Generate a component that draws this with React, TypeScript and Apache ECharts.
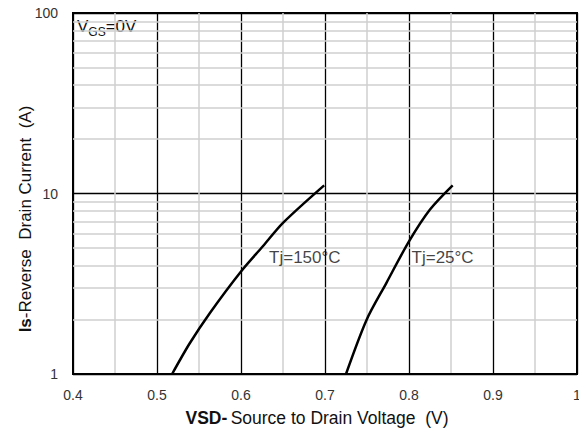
import React, { useEffect, useRef } from "react";
import * as echarts from "echarts";

const curve150: [number, number][] = [
  [0.518, 1],
  [0.539, 1.48],
  [0.563, 2.18],
  [0.6, 3.7],
  [0.626, 5.1],
  [0.65, 6.88],
  [0.699, 11.1],
];
const curve25: [number, number][] = [
  [0.725, 1],
  [0.7496, 2.0],
  [0.773, 3.19],
  [0.8, 5.43],
  [0.825, 8.15],
  [0.852, 11.1],
];
const minorY = [2, 3, 4, 5, 6, 7, 8, 9, 20, 30, 40, 50, 60, 70, 80, 90];
const label150 = "Tj=150°C";
const label25 = "Tj=25°C";
const label150Pos: [number, number] = [0.676, 4.4];
const label25Pos: [number, number] = [0.84, 4.4];

const FONT = "'Liberation Sans', Arial, sans-serif";

export default function App() {
  const ref = useRef<HTMLDivElement>(null);
  useEffect(() => {
    if (!ref.current) return;
    const chart = echarts.init(ref.current, null, { renderer: "svg" });
    chart.setOption({
      animation: false,
      backgroundColor: "#fff",
      textStyle: { fontFamily: FONT },
      grid: {
        left: 73,
        right: 10,
        top: 13,
        bottom: 62,
        show: true,
        borderColor: "#000",
        borderWidth: 2,
        backgroundColor: "transparent",
      },
      xAxis: {
        type: "value",
        min: 0.4,
        max: 1,
        interval: 0.1,
        axisLine: { show: true, lineStyle: { color: "#000", width: 2 } },
        axisTick: { show: false },
        axisLabel: {
          color: "#333",
          fontSize: 14,
          fontFamily: FONT,
          margin: 14,
          formatter: (v: number) => String(Math.round(v * 10) / 10),
        },
        splitLine: { show: true, lineStyle: { color: "#000", width: 1.3 } },
        minorTick: { show: false, splitNumber: 2 },
        minorSplitLine: { show: true, lineStyle: { color: "#cfcfcf", width: 1.5 } },
      },
      yAxis: {
        type: "log",
        logBase: 10,
        min: 1,
        max: 100,
        axisLine: { show: true, lineStyle: { color: "#000", width: 2 } },
        axisTick: { show: false },
        axisLabel: { color: "#333", fontSize: 14, fontFamily: FONT, margin: 15 },
        splitLine: { show: true, lineStyle: { color: "#000", width: 1.3 } },
      },
      series: [
        {
          type: "line",
          data: [],
          z: -1,
          silent: true,
          markLine: {
            silent: true,
            symbol: "none",
            label: { show: false },
            lineStyle: { color: "#cfcfcf", width: 1.5, type: "solid" },
            data: minorY.map((v) => ({ yAxis: v })),
          },
        },
        {
          type: "line",
          data: curve150,
          smooth: 0.3,
          showSymbol: false,
          lineStyle: { color: "#000", width: 2.5 },
          z: 5,
        },
        {
          type: "line",
          data: curve25,
          smooth: 0.3,
          showSymbol: false,
          lineStyle: { color: "#000", width: 2.5 },
          z: 5,
        },
        {
          type: "scatter",
          symbolSize: 0,
          z: 6,
          data: [
            { value: label150Pos, name: label150 },
            { value: label25Pos, name: label25 },
          ],
          label: {
            show: true,
            position: "inside",
            formatter: (p: any) => p.name,
            color: "#111",
            fontSize: 17,
            fontFamily: FONT,
          },
        },
      ],
      graphic: [
        {
          type: "text",
          left: 77,
          top: 18,
          style: {
            text: "{a|V}{b|GS}{a|=0V}",
            rich: {
              a: { fontSize: 17, fontFamily: FONT, fill: "#111", verticalAlign: "bottom" },
              b: { fontSize: 12, fontFamily: FONT, fill: "#111", verticalAlign: "bottom", padding: [0, 0, -3, 0] },
            },
          },
        },
        {
          type: "text",
          x: 317,
          y: 418,
          style: {
            text: "{b|VSD-} {n|Source to Drain Voltage  (V)}",
            align: "center",
            verticalAlign: "middle",
            rich: {
              b: { fontSize: 17.5, fontWeight: "bold", fontFamily: FONT, fill: "#111" },
              n: { fontSize: 17.5, fontFamily: FONT, fill: "#111" },
            },
          },
        },
        {
          type: "text",
          x: 25,
          y: 219,
          rotation: Math.PI / 2,
          style: {
            text: "{b|Is}{n|-Reverse  Drain Current  (A)}",
            align: "center",
            verticalAlign: "middle",
            rich: {
              b: { fontSize: 17, fontWeight: "bold", fontFamily: FONT, fill: "#111" },
              n: { fontSize: 17, fontFamily: FONT, fill: "#111" },
            },
          },
        },
      ],
    });
    return () => chart.dispose();
  }, []);
  return <div ref={ref} style={{ width: 587, height: 436, margin: -8 }} />;
}
